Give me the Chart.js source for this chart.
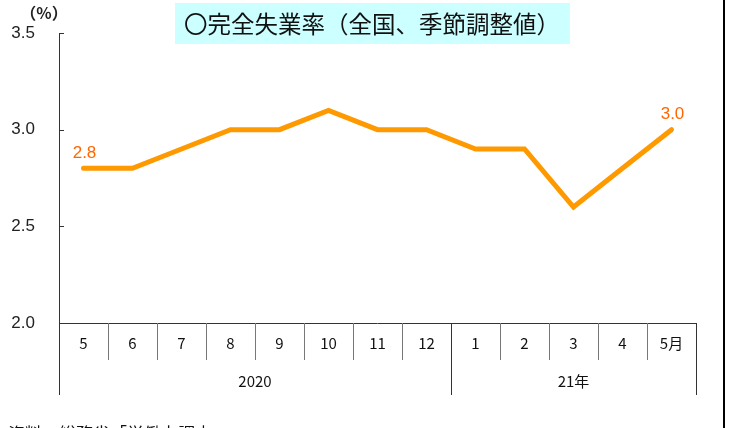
<!DOCTYPE html>
<html>
<head>
<meta charset="utf-8">
<script src="https://cdn.jsdelivr.net/npm/chart.js@4"></script>
<style>
  body { margin: 0; background: #fff; }
  #wrap { width: 731px; height: 428px; position: relative; }
</style>
</head>
<body>
<div id="wrap"><canvas id="plot"></canvas></div>
<script>
// 完全失業率（全国、季節調整値）
const months = ['5', '6', '7', '8', '9', '10', '11', '12', '1', '2', '3', '4', '5月'];
const rates = [2.8, 2.8, 2.9, 3.0, 3.0, 3.1, 3.0, 3.0, 2.9, 2.9, 2.6, 2.8, 3.0];
const years = ['2020', '21年'];
const yearSpans = [8, 5];
const labelled = [0, 12];
const yTicks = [2.0, 2.5, 3.0, 3.5];

const jp = '"Noto Sans CJK JP", "Noto Sans", sans-serif';

const decor = {
  id: 'decor',
  afterDraw(chart) {
    const ctx = chart.ctx;
    const x = chart.scales.x;
    const y = chart.scales.y;
    const area = chart.chartArea;
    const step = x.getPixelForValue(1) - x.getPixelForValue(0);
    const edge = i => x.getPixelForValue(i) - step / 2;
    ctx.save();

    // axes
    ctx.strokeStyle = '#333';
    ctx.lineWidth = 1;
    ctx.beginPath();
    ctx.moveTo(area.left + 0.5, area.top);
    ctx.lineTo(area.left + 0.5, area.bottom + 72);
    ctx.moveTo(area.left, area.bottom + 0.5);
    ctx.lineTo(area.right, area.bottom + 0.5);
    yTicks.forEach(v => {
      const py = Math.round(y.getPixelForValue(v)) + 0.5;
      ctx.moveTo(area.left, py);
      ctx.lineTo(area.left + 5, py);
    });
    ctx.stroke();

    // month separators
    ctx.strokeStyle = '#777';
    ctx.beginPath();
    for (let i = 1; i < months.length; i++) {
      const px = Math.round(edge(i)) + 0.5;
      ctx.moveTo(px, area.bottom);
      ctx.lineTo(px, area.bottom + 37);
    }
    ctx.stroke();

    // year groups
    ctx.strokeStyle = '#333';
    ctx.fillStyle = '#111';
    ctx.font = '15px ' + jp;
    ctx.textAlign = 'center';
    ctx.textBaseline = 'middle';
    let start = 0;
    years.forEach((lab, k) => {
      const end = start + yearSpans[k];
      const x0 = edge(start), x1 = edge(end);
      ctx.beginPath();
      ctx.moveTo(Math.round(x1) + 0.5, area.bottom);
      ctx.lineTo(Math.round(x1) + 0.5, area.bottom + 72);
      ctx.stroke();
      ctx.fillText(lab, (x0 + x1) / 2, area.bottom + 58);
      start = end;
    });

    // value labels
    const meta = chart.getDatasetMeta(0);
    ctx.fillStyle = '#FF6600';
    ctx.font = '17px "Liberation Sans", Arial, sans-serif';
    labelled.forEach(i => {
      const pt = meta.data[i];
      ctx.fillText(rates[i].toFixed(1), pt.x + 1, pt.y - 15);
    });

    // unit
    ctx.fillStyle = '#222';
    ctx.font = 'bold 16px ' + jp;
    ctx.fillText('（%）', 44, 13);

    // title box
    ctx.fillStyle = '#CCFFFF';
    ctx.fillRect(175, 3, 395, 41);
    ctx.fillStyle = '#111';
    ctx.font = '23.5px ' + jp;
    ctx.fillText('〇完全失業率（全国、季節調整値）', 372, 24);

    // source note (cut off at the bottom)
    ctx.textAlign = 'left';
    ctx.textBaseline = 'top';
    ctx.font = '17px ' + jp;
    ctx.fillText('資料：総務省「労働力調査」', 8, 425);

    // right frame line
    ctx.fillStyle = '#000';
    ctx.fillRect(723, 0, 2, 428);
    ctx.restore();
  }
};

new Chart(document.getElementById('plot').getContext('2d'), {
  type: 'line',
  data: {
    labels: months,
    datasets: [{
      data: rates,
      borderColor: '#FF9900',
      borderWidth: 5,
      borderCapStyle: 'round',
      pointRadius: 0,
      tension: 0
    }]
  },
  options: {
    responsive: true,
    maintainAspectRatio: false,
    animation: false,
    layout: { padding: { top: 33, right: 35, left: 0, bottom: 0 } },
    plugins: { legend: { display: false }, tooltip: { enabled: false } },
    scales: {
      x: {
        offset: true,
        grid: { display: false },
        border: { display: false },
        ticks: {
          color: '#111',
          font: { size: 15, family: jp },
          padding: 3,
          autoSkip: false,
          maxRotation: 0
        },
        afterFit: s => { s.height = 105; }
      },
      y: {
        min: 2.0,
        max: 3.5,
        grid: { display: false },
        border: { display: false },
        ticks: {
          stepSize: 0.5,
          color: '#222',
          font: { size: 17, family: '"Liberation Sans", Arial, sans-serif' },
          padding: 16,
          callback: v => v.toFixed(1)
        },
        afterFit: s => { s.width = 59; }
      }
    }
  },
  plugins: [decor]
});
</script>
</body>
</html>
